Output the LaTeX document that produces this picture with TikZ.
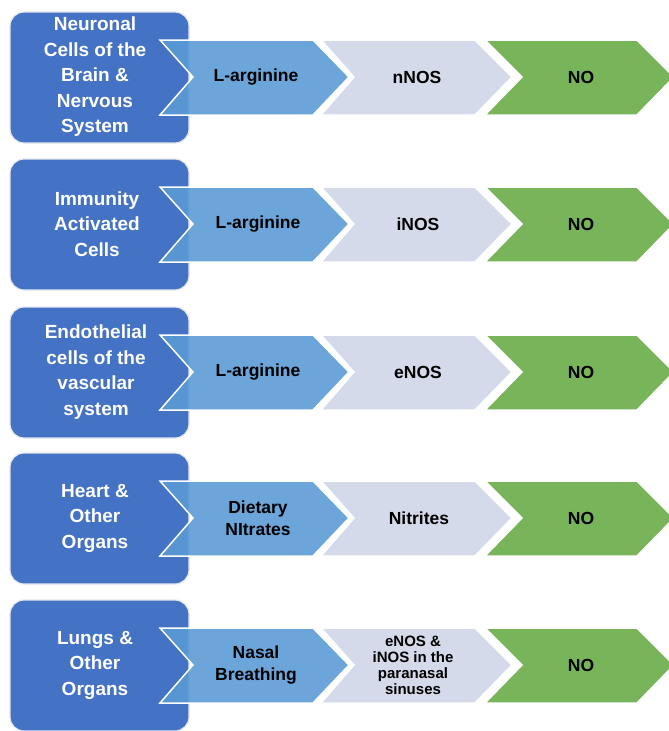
\documentclass[tikz,border=0pt]{standalone}
\usepackage{fontspec}
\newfontfamily\cond{Liberation Sans}
\definecolor{boxblue}{HTML}{4472C4}
\definecolor{chevblue}{HTML}{5B9BD5}
\definecolor{chevgray}{HTML}{D4DAEA}
\definecolor{chevgreen}{HTML}{78B45A}
\definecolor{boxedge}{HTML}{E3E7EF}
\tikzset{
  srcbox/.style={fill=boxblue, draw=boxedge, line width=1.2pt, rounded corners=14pt},
  chevA/.style={fill=chevblue, fill opacity=0.9, draw=white, line width=1.5pt},
  chevB/.style={fill=chevgray, draw=white, line width=1.5pt},
  chevC/.style={fill=chevgreen, draw=white, line width=1.5pt},
  boxtext/.style={text=white, align=center, font=\cond\bfseries\fontsize{19}{25.5}\selectfont, inner sep=0pt},
  chevtext/.style={text=black, align=center, font=\cond\bfseries\fontsize{17.5}{22}\selectfont, inner sep=0pt},
  smalltext/.style={text=black, align=center, font=\cond\bfseries\fontsize{15}{16}\selectfont, inner sep=0pt}
}
\begin{document}
\begin{tikzpicture}[x=1pt,y=-1pt]
\useasboundingbox (0,0) rectangle (669,731);
\foreach \c/\n in {77/1,224/2,372/3,518/4,665/5}{
  \draw[srcbox] (10,\c-65) rectangle (189,\c+66);
  \draw[chevA] (160,\c-37) -- (313,\c-37) -- (349,\c) -- (313,\c+38) -- (160,\c+38) -- (193,\c) -- cycle;
  \draw[chevB] (321,\c-37) -- (475,\c-37) -- (512,\c) -- (475,\c+38) -- (321,\c+38) -- (354,\c) -- cycle;
  \draw[chevC] (485,\c-37) -- (637,\c-37) -- (674,\c) -- (637,\c+38) -- (485,\c+38) -- (522,\c) -- cycle;
  \node[chevtext] (no\n) at (581,\c) {NO};
}
\node[boxtext] (src1) at (95,77) {Neuronal\\Cells of the\\Brain \&\\Nervous\\System};
\node[boxtext] (src2) at (97,224) {Immunity\\Activated\\Cells};
\node[boxtext] (src3) at (96,372) {Endothelial\\cells of the\\vascular\\system};
\node[boxtext] (src4) at (95,518) {Heart \&\\Other\\Organs};
\node[boxtext] (src5) at (95,665) {Lungs \&\\Other\\Organs};
\node[chevtext] (sub1) at (256,77) {L-arginine};
\node[chevtext] (sub2) at (258,224) {L-arginine};
\node[chevtext] (sub3) at (258,372) {L-arginine};
\node[chevtext] (sub4) at (258,518) {Dietary\\NItrates};
\node[chevtext] (sub5) at (256,665) {Nasal\\Breathing};
\node[chevtext] (enz1) at (417,77) {nNOS};
\node[chevtext] (enz2) at (418,224) {iNOS};
\node[chevtext] (enz3) at (418,372) {eNOS};
\node[chevtext] (enz4) at (419,518) {Nitrites};
\node[smalltext] (enz5) at (413,665) {eNOS \&\\iNOS in the\\paranasal\\sinuses};
\end{tikzpicture}
\end{document}
